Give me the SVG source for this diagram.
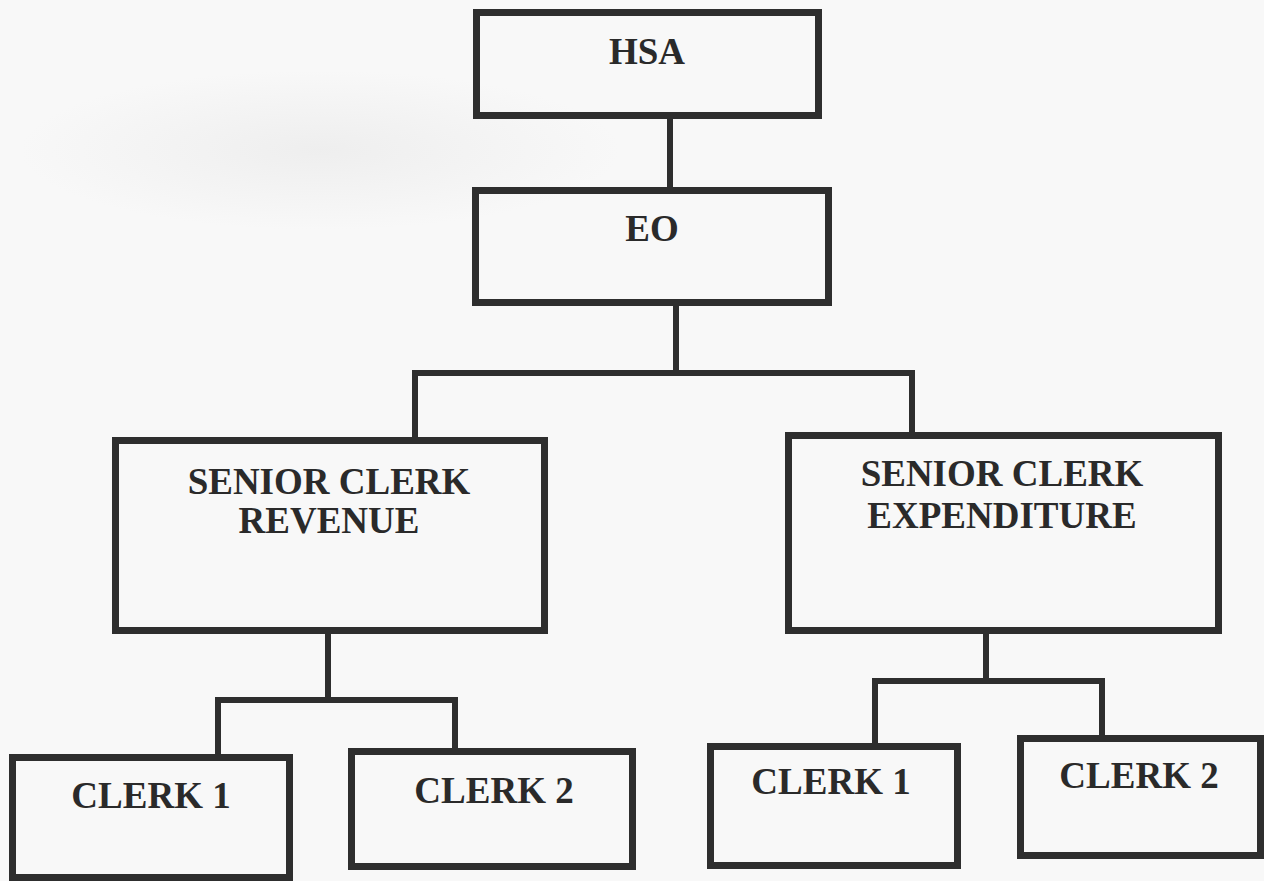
<svg xmlns="http://www.w3.org/2000/svg" width="1264" height="881" viewBox="0 0 1264 881">
  <defs>
    <radialGradient id="smudge" cx="0.5" cy="0.5" r="0.5">
      <stop offset="0" stop-color="#dcdcdc" stop-opacity="0.35"/>
      <stop offset="1" stop-color="#dcdcdc" stop-opacity="0"/>
    </radialGradient>
  </defs>
  <style>
    .box { fill: none; stroke: #2e2e2e; stroke-width: 7; }
    .conn { fill: none; stroke: #2e2e2e; stroke-width: 6; stroke-linecap: square; }
    .lbl { font-family: "Liberation Serif", "Times New Roman", serif; font-weight: bold; font-size: 37px; fill: #2a2a2a; text-anchor: middle; }
  </style>
  <rect x="0" y="0" width="1264" height="881" fill="#f8f8f8"/>
  <ellipse cx="320" cy="150" rx="300" ry="80" fill="url(#smudge)"/>

  <g id="connectors">
    <line class="conn" x1="670" y1="119" x2="670" y2="187"/>
    <line class="conn" x1="676" y1="306" x2="676" y2="373"/>
    <polyline class="conn" points="415,437 415,373 912,373 912,432"/>
    <line class="conn" x1="328" y1="634" x2="328" y2="700"/>
    <polyline class="conn" points="218,754 218,700 455,700 455,748"/>
    <line class="conn" x1="986" y1="634" x2="986" y2="681"/>
    <polyline class="conn" points="875,743 875,681 1102,681 1102,735"/>
  </g>

  <g id="hsa">
    <rect class="box" x="476.5" y="12.5" width="342" height="103"/>
    <text class="lbl" x="647" y="64">HSA</text>
  </g>
  <g id="eo">
    <rect class="box" x="475.5" y="190.5" width="353" height="112"/>
    <text class="lbl" x="652" y="241">EO</text>
  </g>
  <g id="senior-clerk-revenue">
    <rect class="box" x="115.5" y="440.5" width="429" height="190"/>
    <text class="lbl" x="329" y="494">SENIOR CLERK</text>
    <text class="lbl" x="329" y="533">REVENUE</text>
  </g>
  <g id="senior-clerk-expenditure">
    <rect class="box" x="788.5" y="435.5" width="430" height="195"/>
    <text class="lbl" x="1002" y="486">SENIOR CLERK</text>
    <text class="lbl" x="1002" y="528">EXPENDITURE</text>
  </g>
  <g id="rev-clerk-1">
    <rect class="box" x="12.5" y="757.5" width="277" height="120"/>
    <text class="lbl" x="151" y="808">CLERK 1</text>
  </g>
  <g id="rev-clerk-2">
    <rect class="box" x="351.5" y="751.5" width="281" height="115"/>
    <text class="lbl" x="494" y="803">CLERK 2</text>
  </g>
  <g id="exp-clerk-1">
    <rect class="box" x="710.5" y="746.5" width="247" height="119"/>
    <text class="lbl" x="831" y="794">CLERK 1</text>
  </g>
  <g id="exp-clerk-2">
    <rect class="box" x="1020.5" y="738.5" width="240" height="117"/>
    <text class="lbl" x="1139" y="788">CLERK 2</text>
  </g>
</svg>
